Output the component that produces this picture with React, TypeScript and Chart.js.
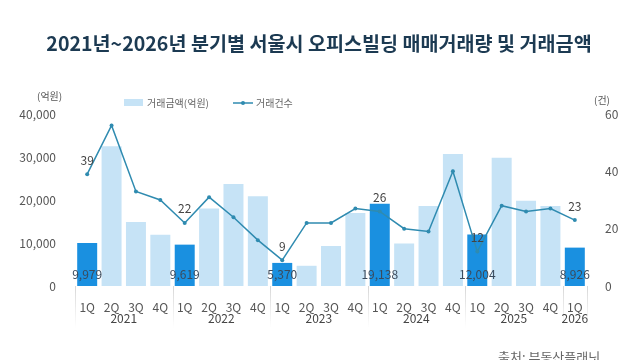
import React, { useEffect, useRef } from "react";
import { Chart, registerables } from "chart.js";

Chart.register(...registerables);

const quarters = ["1Q","2Q","3Q","4Q","1Q","2Q","3Q","4Q","1Q","2Q","3Q","4Q","1Q","2Q","3Q","4Q","1Q","2Q","3Q","4Q","1Q"];
const years = ["2021","2021","2021","2021","2022","2022","2022","2022","2023","2023","2023","2023","2024","2024","2024","2024","2025","2025","2025","2025","2026"];
const amounts = [9979, 32500, 14900, 11900, 9619, 18000, 23700, 20900, 5370, 4700, 9300, 17000, 19138, 9900, 18600, 30700, 12004, 29800, 19800, 18600, 8926];
const counts = [39, 56, 33, 30, 22, 31, 24, 16, 9, 22, 22, 27, 26, 20, 19, 40, 12, 28, 26, 27, 23];
const leftTicks = [0, 10000, 20000, 30000, 40000];
const rightTicks = [0, 20, 40, 60];

const TITLE = "2021년~2026년 분기별 서울시 오피스빌딩 매매거래량 및 거래금액";
const FONT = '"Noto Sans CJK KR", "Noto Sans", sans-serif';
const DARK = "#1a90e0";
const LIGHT = "#c6e3f6";
const LINE = "#2f8bb0";

export default function App() {
  const ref = useRef<HTMLCanvasElement>(null);
  useEffect(() => {
    const canvas = ref.current!;
    const labels = quarters.map((q, i) => q + " " + years[i]);
    const isFirst = (i: number) => quarters[i] === "1Q";
    const overlay = {
      id: "overlay",
      afterDraw(chart: any) {
        const ctx = chart.ctx;
        const xs = chart.scales.x;
        const ca = chart.chartArea;
        ctx.save();
        // title
        ctx.fillStyle = "#1c3a52";
        ctx.font = "bold 19.6px " + FONT;
        ctx.textAlign = "center";
        ctx.textBaseline = "middle";
        ctx.fillText(TITLE, 319, 44);
        // units
        ctx.fillStyle = "#555";
        ctx.font = "10px " + FONT;
        ctx.textAlign = "left";
        ctx.fillText("(억원)", 37, 96);
        ctx.fillText("(건)", 594, 100);
        // legend
        ctx.fillStyle = LIGHT;
        ctx.fillRect(124, 99, 19, 7);
        ctx.fillStyle = "#666";
        ctx.font = "10px " + FONT;
        ctx.fillText("거래금액(억원)", 147, 103);
        ctx.strokeStyle = LINE;
        ctx.lineWidth = 1.5;
        ctx.beginPath();
        ctx.moveTo(233, 103);
        ctx.lineTo(253, 103);
        ctx.stroke();
        ctx.fillStyle = LINE;
        ctx.beginPath();
        ctx.arc(243, 103, 2, 0, Math.PI * 2);
        ctx.fill();
        ctx.fillStyle = "#666";
        ctx.fillText("거래건수", 256, 103);
        // year separators and labels
        const bounds: number[] = [ca.left];
        const groups: { year: string; xs: number[] }[] = [];
        years.forEach((y, i) => {
          const px = xs.getPixelForValue(i);
          if (i > 0 && years[i - 1] !== y) {
            bounds.push((xs.getPixelForValue(i - 1) + px) / 2);
          }
          if (!groups.length || groups[groups.length - 1].year !== y) groups.push({ year: y, xs: [] });
          groups[groups.length - 1].xs.push(px);
        });
        bounds.push(ca.right);
        bounds.forEach((bx) => {
          const g = ctx.createLinearGradient(0, ca.bottom, 0, ca.bottom + 42);
          g.addColorStop(0, "rgba(215,215,215,1)");
          g.addColorStop(1, "rgba(215,215,215,0)");
          ctx.strokeStyle = g;
          ctx.lineWidth = 1;
          ctx.beginPath();
          ctx.moveTo(Math.round(bx) + 0.5, ca.bottom);
          ctx.lineTo(Math.round(bx) + 0.5, ca.bottom + 42);
          ctx.stroke();
        });
        ctx.fillStyle = "#444";
        ctx.font = "12px " + FONT;
        ctx.textAlign = "center";
        groups.forEach((g) => {
          const cx = g.xs.reduce((a, b) => a + b, 0) / g.xs.length;
          ctx.fillText(g.year, cx, 318);
        });
        // data labels
        const barMeta = chart.getDatasetMeta(0);
        const lineMeta = chart.getDatasetMeta(1);
        ctx.font = "12px " + FONT;
        amounts.forEach((v, i) => {
          if (!isFirst(i)) return;
          const el = barMeta.data[i];
          ctx.fillStyle = "#3a4a5c";
          ctx.fillText(v.toLocaleString("en-US"), el.x, 274);
          const p = lineMeta.data[i];
          ctx.fillStyle = "#444";
          ctx.fillText(String(counts[i]), p.x, p.y - 14);
        });
        // source
        ctx.fillStyle = "#666";
        ctx.font = "13px " + FONT;
        ctx.textAlign = "left";
        ctx.textBaseline = "top";
        ctx.fillText("출처: 부동산플래닛", 498, 351);
        ctx.restore();
      },
    };
    const chart = new Chart(canvas, {
      data: {
        labels,
        datasets: [
          {
            type: "bar",
            label: "거래금액(억원)",
            data: amounts,
            backgroundColor: amounts.map((_, i) => (isFirst(i) ? DARK : LIGHT)),
            yAxisID: "y",
            categoryPercentage: 1,
            barPercentage: 0.82,
            order: 2,
          },
          {
            type: "line",
            label: "거래건수",
            data: counts,
            borderColor: LINE,
            backgroundColor: LINE,
            borderWidth: 1.5,
            pointRadius: 2,
            pointBackgroundColor: LINE,
            pointBorderWidth: 0,
            tension: 0,
            yAxisID: "y1",
            order: 1,
          },
        ],
      } as any,
      options: {
        responsive: false,
        animation: false,
        layout: { padding: { top: 114, left: 0, right: 0, bottom: 0 } },
        plugins: { legend: { display: false }, tooltip: { enabled: false }, title: { display: false } },
        scales: {
          x: {
            type: "category",
            offset: true,
            grid: { display: false },
            border: { display: false },
            ticks: {
              color: "#555",
              font: { size: 12, family: FONT },
              padding: 6,
              maxRotation: 0,
              autoSkip: false,
              callback: (_v: any, i: number) => quarters[i],
            },
            afterFit: (s: any) => { s.height = 74; },
          },
          y: {
            position: "left",
            min: 0,
            max: 40000,
            afterBuildTicks: (s: any) => { s.ticks = leftTicks.map((v) => ({ value: v })); },
            grid: { display: false },
            border: { display: false },
            ticks: {
              color: "#555",
              font: { size: 12, family: FONT },
              padding: 11,
              callback: (v: any) => Number(v).toLocaleString("en-US"),
            },
            afterFit: (s: any) => { s.width = 75; },
          },
          y1: {
            position: "right",
            min: 0,
            max: 60,
            afterBuildTicks: (s: any) => { s.ticks = rightTicks.map((v) => ({ value: v })); },
            grid: { display: false },
            border: { display: false },
            ticks: { color: "#555", font: { size: 12, family: FONT }, padding: 10 },
            afterFit: (s: any) => { s.width = 53; },
          },
        },
      } as any,
      plugins: [overlay],
    });
    return () => chart.destroy();
  }, []);
  return (
    <div style={{ position: "fixed", left: 0, top: 0, width: 640, height: 360, background: "#fff" }}>
      <canvas ref={ref} width={640} height={360} />
    </div>
  );
}
